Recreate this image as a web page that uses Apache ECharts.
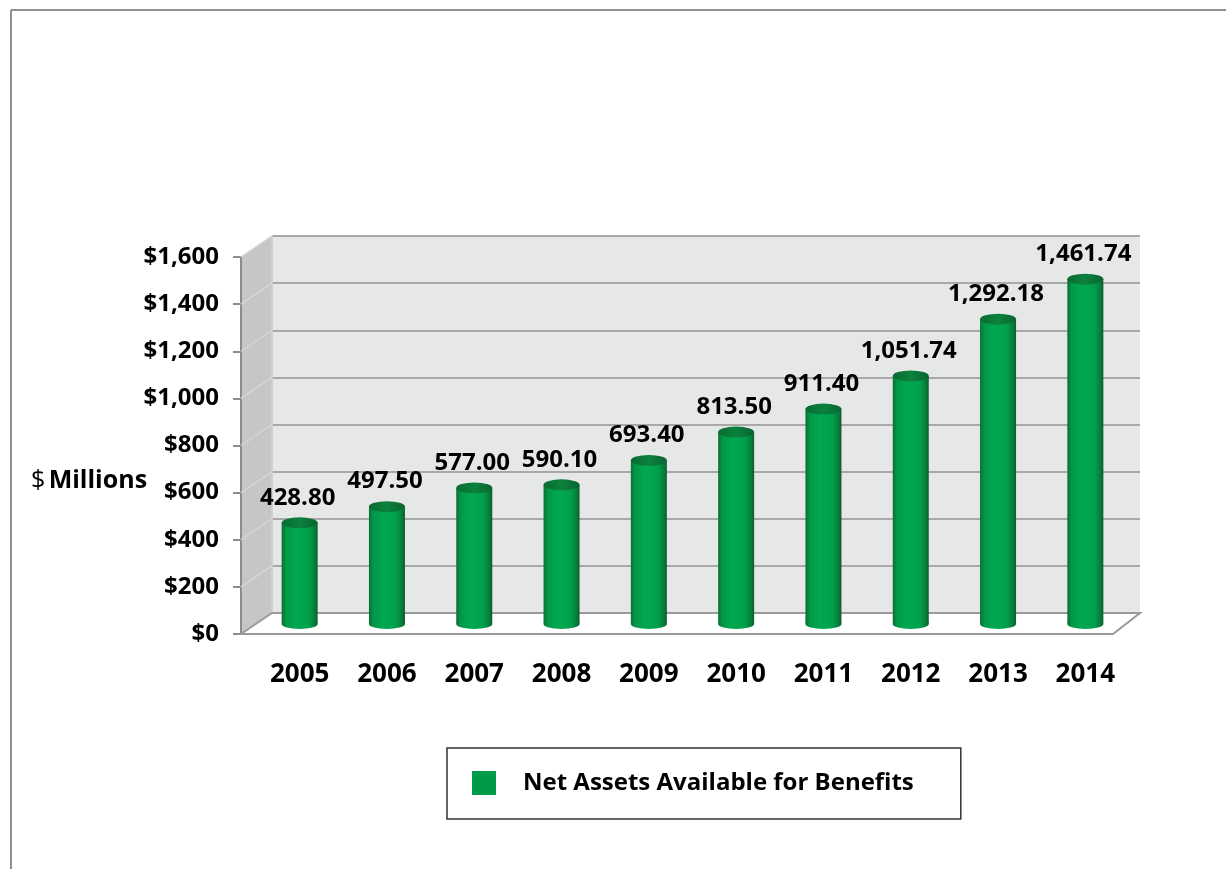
<!DOCTYPE html>
<html>
<head>
<meta charset="utf-8">
<script src="https://cdn.jsdelivr.net/npm/echarts@6/dist/echarts.min.js"></script>
<style>
html,body{margin:0;padding:0;background:#fff;}
#chart{width:1226px;height:869px;}
</style>
</head>
<body>
<div id="chart"></div>
<script>
// ---- data ----
const years = ['2005','2006','2007','2008','2009','2010','2011','2012','2013','2014'];
const netAssets = [428.80, 497.50, 577.00, 590.10, 693.40, 813.50, 911.40, 1051.74, 1292.18, 1461.74];
const seriesName = 'Net Assets Available for Benefits';
const yMin = 0, yMax = 1600, yStep = 200;
const yAxisTitle = '$ Millions';

// ---- layout (decoration geometry) ----
const W = 1226, H = 869;
const FRONT = {left: 241, right: 1113, top: 257, bottom: 634};
const BACK  = {left: 272, right: 1140, top: 236, bottom: 613};
const MID   = {left: 256, right: 1129, top: 246.6, bottom: 624};
const FONT = '"Open Sans", "DejaVu Sans", sans-serif';

const chart = echarts.init(document.getElementById('chart'));

function fmtMoney(v){ return '$' + Number(v).toLocaleString('en-US'); }
function fmtVal(v){ return Number(v).toLocaleString('en-US',{minimumFractionDigits:2, maximumFractionDigits:2}); }

const graphics = [];
// outer frame (top and left edges)
graphics.push({type:'line', shape:{x1:11,y1:10,x2:W,y2:10}, style:{stroke:'#8f8f8f', lineWidth:2}, z:0});
graphics.push({type:'line', shape:{x1:11,y1:10,x2:11,y2:H}, style:{stroke:'#8f8f8f', lineWidth:2}, z:0});
// side wall
graphics.push({type:'polygon', shape:{points:[[FRONT.left,FRONT.bottom],[BACK.left,BACK.bottom],[BACK.left,BACK.top],[FRONT.left,FRONT.top]]},
  style:{fill:'#c5c6c6', stroke:'#bdbdbd', lineWidth:1}, z:0});
for (let v = yMin; v <= yMax; v += yStep) {
  const fy = FRONT.bottom - (v - yMin)/(yMax - yMin)*(FRONT.bottom - FRONT.top);
  const by = BACK.bottom - (v - yMin)/(yMax - yMin)*(BACK.bottom - BACK.top);
  graphics.push({type:'line', shape:{x1:FRONT.left,y1:fy,x2:BACK.left,y2:by}, style:{stroke:'#d6d6d6', lineWidth:1.5}, z:1});
}
// floor
graphics.push({type:'polygon', shape:{points:[[FRONT.left,FRONT.bottom],[BACK.left,BACK.bottom],[BACK.right,BACK.bottom],[FRONT.right,FRONT.bottom]]},
  style:{fill:'#ffffff', stroke:'#9a9a9a', lineWidth:2}, z:1});
// y axis title
graphics.push({type:'text', left:31, top:468, z:5, style:{
  text:'{a|$} {b|Millions}', rich:{
    a:{fontFamily:FONT, fontSize:25, fontWeight:'normal', fill:'#000'},
    b:{fontFamily:FONT, fontSize:25, fontWeight:'bold', fill:'#000'}
  }}});

const barGrad = new echarts.graphic.LinearGradient(0,0,1,0,[
  {offset:0, color:'#0b6e34'},
  {offset:0.12, color:'#029847'},
  {offset:0.4, color:'#00a851'},
  {offset:0.75, color:'#00a04c'},
  {offset:0.92, color:'#067d3a'},
  {offset:1, color:'#0a5c2c'}
]);
const topGrad = new echarts.graphic.LinearGradient(0,0,1,0,[
  {offset:0, color:'#0a6a31'},
  {offset:0.5, color:'#0b823e'},
  {offset:1, color:'#096430'}
]);

const option = {
  backgroundColor:'#ffffff',
  animation:false,
  graphic: graphics,
  grid:[
    {left:MID.left, right:W-MID.right, top:MID.top, bottom:H-MID.bottom, containLabel:false},
    {left:BACK.left, right:W-BACK.right, top:BACK.top, bottom:H-BACK.bottom, show:true, backgroundColor:'#e6e7e7', borderWidth:0, z:0},
    {left:FRONT.left, right:W-FRONT.right, top:FRONT.top, bottom:H-FRONT.bottom}
  ],
  xAxis:[
    {type:'category', gridIndex:0, data:years, axisLine:{show:false}, axisTick:{show:false},
      axisLabel:{margin:38, fontFamily:FONT, fontSize:26, fontWeight:'bold', color:'#000'}},
    {type:'category', gridIndex:1, data:years, show:false},
    {type:'value', gridIndex:2, show:false}
  ],
  yAxis:[
    {type:'value', gridIndex:0, min:yMin, max:yMax, interval:yStep, show:false},
    {type:'value', gridIndex:1, min:yMin, max:yMax, interval:yStep,
      axisLine:{show:true, lineStyle:{color:'#d2d2d2', width:1.5}}, axisTick:{show:false}, axisLabel:{show:false},
      splitLine:{show:true, lineStyle:{color:'#a8a8a8', width:2}}},
    {type:'value', gridIndex:2, min:yMin, max:yMax, interval:yStep,
      axisLine:{show:true, lineStyle:{color:'#8c8c8c', width:2}},
      axisTick:{show:true, length:8, lineStyle:{color:'#8c8c8c', width:2}},
      splitLine:{show:false},
      axisLabel:{margin:22, fontFamily:FONT, fontSize:24, fontWeight:'bold', color:'#000', formatter:fmtMoney, padding:[8,0,0,0]}}
  ],
  legend:{
    left:447, top:748, orient:'horizontal',
    data:[{name:seriesName, icon:'rect', itemStyle:{color:'#009b48'}}],
    itemWidth:24, itemHeight:24,
    padding:[23, 47, 24, 25],
    borderColor:'#333', borderWidth:1.5,
    textStyle:{fontFamily:FONT, fontSize:24, fontWeight:'bold', color:'#000', padding:[0,0,0,22]}
  },
  series:[
    {name:'bottomCap', type:'pictorialBar', xAxisIndex:0, yAxisIndex:0, data:netAssets,
      symbol:'circle', symbolSize:[36,10], symbolPosition:'start', symbolOffset:[0,'50%'], barGap:'-100%', z:2, silent:true,
      itemStyle:{color:barGrad}},
    {name:seriesName, type:'bar', xAxisIndex:0, yAxisIndex:0, data:netAssets, barWidth:36, z:3,
      itemStyle:{color:barGrad},
      label:{show:true, position:'top', distance:13, offset:[-2,0], fontFamily:FONT, fontSize:24, fontWeight:'bold', color:'#000', formatter:p=>fmtVal(p.value)}},
    {name:'topCap', type:'pictorialBar', xAxisIndex:0, yAxisIndex:0, data:netAssets,
      symbol:'circle', symbolSize:[36,11], symbolPosition:'end', symbolOffset:[0,'-50%'], barGap:'-100%', z:4, silent:true,
      itemStyle:{color:topGrad}}
  ]
};
chart.setOption(option);
</script>
</body>
</html>
